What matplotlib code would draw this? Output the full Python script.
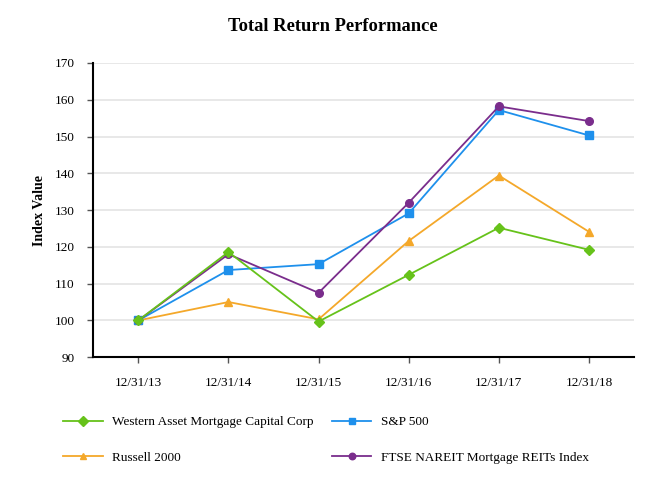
import matplotlib
matplotlib.use('Agg')
import matplotlib.pyplot as plt

plt.rcParams['font.family'] = ['Liberation Serif', 'DejaVu Serif']

dates = ['12/31/13', '12/31/14', '12/31/15', '12/31/16', '12/31/17', '12/31/18']
western = [100, 118.6, 99.7, 112.4, 125.2, 119.2]
sp500 = [100, 113.7, 115.3, 129.1, 157.2, 150.3]
russell = [100, 105.0, 100.3, 121.6, 139.4, 124.1]
ftse = [100, 118.0, 107.5, 132.0, 158.2, 154.2]

fig = plt.figure(figsize=(6.66, 4.92), dpi=100)
ax = fig.add_axes([0.14, 0.274, 0.812, 0.598])

x = range(len(dates))
l1, = ax.plot(x, western, color='#66c21a', marker='D', markersize=5.5, lw=1.3,
              label='Western Asset Mortgage Capital Corp', zorder=5)
l2, = ax.plot(x, sp500, color='#1e90ec', marker='s', markersize=5.5, lw=1.3,
              label='S&P 500', zorder=3)
l3, = ax.plot(x, russell, color='#f4a82a', marker='^', markersize=5.5, lw=1.3,
              label='Russell 2000', zorder=2)
l4, = ax.plot(x, ftse, color='#7a2d8c', marker='o', markersize=5.5, lw=1.3,
              label='FTSE NAREIT Mortgage REITs Index', zorder=4)

ax.set_xlim(-0.5, 5.5)
ax.set_ylim(90, 170)
ax.set_yticks(range(90, 171, 10))
ax.set_xticks(list(x))
ax.set_xticklabels(dates)
ax.tick_params(axis='both', labelsize=9.5, colors='#555555', labelcolor='black', length=4.5, width=1)
ax.tick_params(axis='x', pad=10)
ax.tick_params(axis='y', pad=9)
ax.grid(axis='y', color='#e6e6e6', lw=1.3)
ax.set_axisbelow(True)
for s in ['top', 'right']:
    ax.spines[s].set_visible(False)
for s in ['left', 'bottom']:
    ax.spines[s].set_linewidth(1.5)
    ax.spines[s].set_color('black')

ax.set_ylabel('Index Value', fontsize=10, fontweight='bold', labelpad=6)
fig.suptitle('Total Return Performance', fontsize=13.3, fontweight='bold', y=0.963)

fig.legend([l1, l3, l2, l4], [l.get_label() for l in [l1, l3, l2, l4]],
           ncol=2, loc='center left', bbox_to_anchor=(63 / 666, 0.106), frameon=False,
           fontsize=9.5, columnspacing=1.35, handlelength=3.0, handletextpad=0.75,
           labelspacing=1.75, borderpad=0, borderaxespad=0, markerscale=0.85)

fig.savefig('out.png', dpi=100)
